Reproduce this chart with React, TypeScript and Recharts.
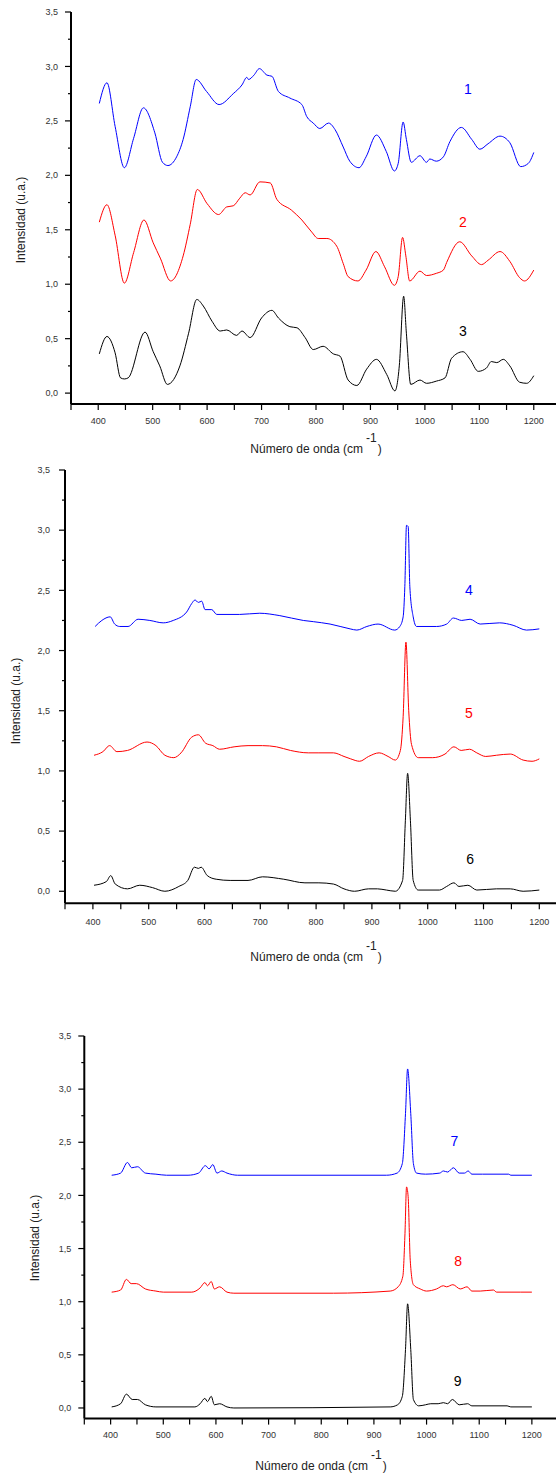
import { LineChart, Line, XAxis, YAxis, ReferenceDot, Label } from "recharts";

// Espectros Raman, tres paneles con tres curvas desplazadas cada uno
const wave1 = [402, 416, 431, 448, 465, 483, 504, 518, 528, 544, 556, 569, 580, 599, 622, 648, 664, 673, 676, 686, 696, 710, 719, 731, 752, 774, 783, 795, 807, 823, 835, 850, 862, 879, 892, 911, 929, 944, 951, 960, 966, 975, 991, 1003, 1009, 1021, 1034, 1046, 1067, 1086, 1101, 1116, 1138, 1156, 1176, 1190, 1200];
const int1 = [2.66, 2.85, 2.45, 2.07, 2.34, 2.62, 2.39, 2.12, 2.09, 2.17, 2.33, 2.63, 2.88, 2.77, 2.65, 2.75, 2.83, 2.9, 2.88, 2.92, 2.98, 2.92, 2.91, 2.77, 2.71, 2.65, 2.54, 2.48, 2.43, 2.48, 2.42, 2.26, 2.13, 2.07, 2.17, 2.37, 2.22, 2.04, 2.11, 2.49, 2.33, 2.12, 2.18, 2.12, 2.15, 2.13, 2.17, 2.31, 2.44, 2.33, 2.24, 2.29, 2.36, 2.3, 2.08, 2.11, 2.21];

const wave2 = [402, 416, 431, 448, 465, 484, 501, 514, 533, 556, 569, 582, 600, 621, 636, 648, 660, 670, 679, 697, 716, 728, 755, 774, 792, 804, 820, 838, 850, 859, 877, 892, 910, 926, 944, 951, 959, 965, 972, 991, 1003, 1021, 1034, 1040, 1064, 1086, 1104, 1116, 1138, 1156, 1174, 1183, 1200];
const int2 = [1.57, 1.73, 1.45, 1.01, 1.29, 1.59, 1.38, 1.24, 1.03, 1.26, 1.55, 1.87, 1.74, 1.64, 1.71, 1.72, 1.79, 1.84, 1.82, 1.94, 1.93, 1.78, 1.68, 1.59, 1.48, 1.42, 1.42, 1.35, 1.19, 1.07, 1.03, 1.13, 1.3, 1.16, 0.99, 1.07, 1.43, 1.26, 1.03, 1.12, 1.08, 1.1, 1.13, 1.2, 1.39, 1.26, 1.18, 1.22, 1.3, 1.21, 1.06, 1.03, 1.13];

const wave3 = [402, 416, 431, 441, 448, 455, 486, 501, 513, 527, 550, 566, 581, 593, 609, 624, 636, 654, 664, 679, 700, 719, 731, 752, 765, 780, 795, 813, 832, 844, 859, 875, 893, 911, 930, 945, 953, 961, 966, 974, 991, 1003, 1021, 1037, 1049, 1070, 1083, 1098, 1113, 1122, 1132, 1144, 1156, 1174, 1187, 1200];
const int3 = [0.36, 0.52, 0.37, 0.14, 0.13, 0.14, 0.56, 0.38, 0.25, 0.08, 0.25, 0.55, 0.86, 0.8, 0.66, 0.57, 0.58, 0.53, 0.57, 0.51, 0.69, 0.76, 0.69, 0.61, 0.6, 0.51, 0.4, 0.43, 0.36, 0.34, 0.12, 0.07, 0.22, 0.31, 0.17, 0.02, 0.25, 0.89, 0.55, 0.08, 0.12, 0.09, 0.11, 0.14, 0.32, 0.38, 0.31, 0.2, 0.23, 0.29, 0.28, 0.31, 0.25, 0.1, 0.09, 0.16];

const wave4 = [404, 416, 431, 439, 448, 463, 481, 502, 526, 544, 568, 577, 583, 589, 595, 601, 613, 622, 663, 699, 735, 777, 795, 825, 861, 873, 891, 911, 941, 950, 956, 959, 962, 965, 968, 974, 980, 1016, 1034, 1046, 1061, 1076, 1094, 1129, 1153, 1177, 1200];
const int4 = [2.2, 2.25, 2.28, 2.22, 2.2, 2.2, 2.26, 2.25, 2.23, 2.25, 2.32, 2.39, 2.42, 2.4, 2.41, 2.34, 2.34, 2.3, 2.3, 2.31, 2.29, 2.25, 2.24, 2.22, 2.18, 2.17, 2.2, 2.22, 2.17, 2.2, 2.28, 2.53, 3.04, 3.03, 2.53, 2.28, 2.2, 2.2, 2.22, 2.27, 2.25, 2.26, 2.22, 2.23, 2.21, 2.17, 2.18];

const wave5 = [402, 418, 430, 443, 462, 497, 513, 529, 545, 558, 577, 589, 602, 615, 627, 653, 678, 704, 729, 754, 786, 805, 831, 850, 862, 878, 894, 913, 929, 942, 951, 956, 961, 966, 971, 983, 1009, 1031, 1047, 1060, 1075, 1088, 1104, 1123, 1148, 1171, 1187, 1200];
const int5 = [1.13, 1.16, 1.21, 1.16, 1.17, 1.24, 1.21, 1.13, 1.11, 1.15, 1.28, 1.3, 1.23, 1.21, 1.18, 1.2, 1.21, 1.21, 1.2, 1.17, 1.15, 1.15, 1.15, 1.12, 1.1, 1.08, 1.12, 1.15, 1.12, 1.09, 1.17, 1.45, 2.07, 1.5, 1.22, 1.11, 1.11, 1.14, 1.2, 1.17, 1.18, 1.15, 1.12, 1.13, 1.14, 1.09, 1.08, 1.1];

const wave6 = [402, 424, 432, 440, 462, 484, 507, 529, 554, 570, 582, 589, 594, 605, 621, 646, 678, 704, 742, 780, 805, 831, 850, 869, 894, 910, 926, 942, 955, 960, 964, 969, 974, 983, 1021, 1034, 1047, 1056, 1072, 1088, 1123, 1148, 1171, 1200];
const int6 = [0.05, 0.08, 0.13, 0.06, 0.02, 0.05, 0.03, 0.0, 0.04, 0.09, 0.2, 0.19, 0.2, 0.13, 0.1, 0.09, 0.09, 0.12, 0.1, 0.07, 0.07, 0.06, 0.02, 0.0, 0.02, 0.02, 0.01, 0.0, 0.09, 0.59, 0.98, 0.59, 0.09, 0.01, 0.01, 0.04, 0.07, 0.04, 0.05, 0.01, 0.02, 0.02, 0.0, 0.01];

const wave7 = [402, 419, 432, 440, 451, 466, 486, 506, 547, 567, 580, 587, 594, 602, 611, 621, 641, 924, 944, 954, 960, 964, 970, 975, 981, 998, 1025, 1032, 1040, 1051, 1062, 1072, 1079, 1086, 1106, 1156, 1160, 1200];
const int7 = [2.19, 2.21, 2.31, 2.26, 2.27, 2.21, 2.2, 2.19, 2.19, 2.21, 2.28, 2.25, 2.29, 2.21, 2.23, 2.21, 2.19, 2.19, 2.21, 2.3, 2.77, 3.19, 2.77, 2.3, 2.21, 2.2, 2.21, 2.23, 2.22, 2.26, 2.21, 2.21, 2.23, 2.2, 2.2, 2.2, 2.19, 2.19];

const wave8 = [402, 419, 430, 439, 449, 466, 486, 500, 554, 570, 579, 584, 591, 597, 607, 621, 634, 823, 931, 946, 955, 959, 962, 965, 969, 975, 988, 1000, 1019, 1032, 1038, 1050, 1064, 1077, 1086, 1102, 1127, 1133, 1178, 1200];
const int8 = [1.09, 1.11, 1.21, 1.17, 1.17, 1.12, 1.1, 1.09, 1.09, 1.13, 1.18, 1.15, 1.19, 1.12, 1.14, 1.09, 1.08, 1.08, 1.1, 1.14, 1.24, 1.64, 2.08, 1.99, 1.39, 1.16, 1.12, 1.1, 1.12, 1.15, 1.14, 1.16, 1.12, 1.14, 1.1, 1.1, 1.11, 1.09, 1.09, 1.09];

const wave9 = [402, 419, 430, 441, 451, 466, 486, 560, 570, 579, 584, 591, 597, 607, 621, 634, 931, 945, 954, 960, 964, 970, 975, 985, 998, 1008, 1022, 1032, 1040, 1049, 1062, 1078, 1086, 1153, 1160, 1200];
const int9 = [0.01, 0.04, 0.13, 0.08, 0.08, 0.03, 0.01, 0.01, 0.04, 0.09, 0.06, 0.11, 0.03, 0.04, 0.01, 0.0, 0.01, 0.03, 0.11, 0.55, 0.98, 0.55, 0.08, 0.02, 0.03, 0.04, 0.04, 0.05, 0.04, 0.08, 0.03, 0.04, 0.02, 0.02, 0.01, 0.01];

const xTicks = [350, 400, 450, 500, 550, 600, 650, 700, 750, 800, 850, 900, 950, 1000, 1050, 1100, 1150, 1200, 1250];
const xLabeled = [400, 500, 600, 700, 800, 900, 1000, 1100, 1200];
const yTicks = [0, 0.25, 0.5, 0.75, 1, 1.25, 1.5, 1.75, 2, 2.25, 2.5, 2.75, 3, 3.25, 3.5];

const BLUE = "#0000ff";
const RED = "#ff0000";
const BLACK = "#000000";
const FONT = "'Liberation Sans', Arial, sans-serif";

const toPoints = (xs: number[], ys: number[]) => xs.map((x, i) => ({ x, y: ys[i] }));

interface Panel {
  top: number;
  height: number;
  margin: { top: number; right: number; bottom: number; left: number };
  xAxisHeight: number;
  xLabelGap: number;
  yLabelGap: number;
  yTitle: [number, number];
  xTitle: [number, number];
  series: { pts: { x: number; y: number }[]; color: string }[];
  tags: { text: string; x: number; y: number; color: string }[];
}

const panels: Panel[] = [
  {
    top: 0,
    height: 470,
    margin: { top: 12, right: 29, bottom: 6, left: 21 },
    xAxisHeight: 60,
    xLabelGap: 20,
    yLabelGap: 13,
    yTitle: [21, 220],
    xTitle: [316, 453],
    series: [
      { pts: toPoints(wave1, int1), color: BLUE },
      { pts: toPoints(wave2, int2), color: RED },
      { pts: toPoints(wave3, int3), color: BLACK },
    ],
    tags: [
      { text: "1", x: 1079, y: 2.79, color: BLUE },
      { text: "2", x: 1070, y: 1.57, color: RED },
      { text: "3", x: 1070, y: 0.57, color: BLACK },
    ],
  },
  {
    top: 460,
    height: 520,
    margin: { top: 10, right: 22.8, bottom: 16.7, left: 15 },
    xAxisHeight: 60,
    xLabelGap: 22,
    yLabelGap: 15,
    yTitle: [16, 241],
    xTitle: [316, 501],
    series: [
      { pts: toPoints(wave4, int4), color: BLUE },
      { pts: toPoints(wave5, int5), color: RED },
      { pts: toPoints(wave6, int6), color: BLACK },
    ],
    tags: [
      { text: "4", x: 1074, y: 2.5, color: BLUE },
      { text: "5", x: 1074, y: 1.48, color: RED },
      { text: "6", x: 1076, y: 0.27, color: BLACK },
    ],
  },
  {
    top: 1020,
    height: 455,
    margin: { top: 16, right: 31.8, bottom: 6.4, left: 34.3 },
    xAxisHeight: 50,
    xLabelGap: 19.5,
    yLabelGap: 13,
    yTitle: [35, 218],
    xTitle: [321, 450],
    series: [
      { pts: toPoints(wave7, int7), color: BLUE },
      { pts: toPoints(wave8, int8), color: RED },
      { pts: toPoints(wave9, int9), color: BLACK },
    ],
    tags: [
      { text: "7", x: 1053, y: 2.51, color: BLUE },
      { text: "8", x: 1060, y: 1.38, color: RED },
      { text: "9", x: 1059, y: 0.25, color: BLACK },
    ],
  },
];

function XTick({ x, y, payload, gap }: any) {
  const v = payload.value;
  return (
    <g>
      <line x1={x} y1={y} x2={x} y2={y + 6} stroke="#000" strokeWidth={1.2} />
      {xLabeled.includes(v) && (
        <text x={x} y={y + gap} textAnchor="middle" fontSize={9} fill="#333" fontFamily={FONT}>
          {v}
        </text>
      )}
    </g>
  );
}

function YTick({ x, y, payload, gap }: any) {
  const v = payload.value;
  const major = Math.abs(v * 2 - Math.round(v * 2)) < 1e-6;
  return (
    <g>
      <line x1={x - (major ? 6 : 3)} y1={y} x2={x} y2={y} stroke="#000" strokeWidth={1.2} />
      {major && (
        <text x={x - gap} y={y} dy="0.35em" textAnchor="end" fontSize={9} fill="#333" fontFamily={FONT}>
          {v.toFixed(1).replace(".", ",")}
        </text>
      )}
    </g>
  );
}

function SpectraPanel({ p }: { p: Panel }) {
  const [ytx, yty] = p.yTitle;
  const [xtx, xty] = p.xTitle;
  return (
    <div style={{ position: "absolute", left: 0, top: p.top }}>
      <LineChart width={590} height={p.height} margin={p.margin}>
        <XAxis
          dataKey="x"
          type="number"
          domain={[350, 1250]}
          ticks={xTicks}
          interval={0}
          allowDataOverflow
          height={p.xAxisHeight}
          axisLine={{ stroke: "#000", strokeWidth: 2 }}
          tickLine={false}
          tickSize={0}
          tickMargin={0}
          tick={(props: any) => <XTick {...props} gap={p.xLabelGap} />}
        >
          <Label
            content={() => (
              <text x={xtx} y={xty} textAnchor="middle" fontSize={12} fill="#222" fontFamily={FONT}>
                <tspan>Número de onda (cm</tspan>
                <tspan dx={3} dy={-11}>-1</tspan>
                <tspan dx={1} dy={11}>)</tspan>
              </text>
            )}
          />
        </XAxis>
        <YAxis
          type="number"
          domain={[-0.1, 3.5]}
          ticks={yTicks}
          interval={0}
          allowDataOverflow
          width={50}
          axisLine={{ stroke: "#000", strokeWidth: 2 }}
          tickLine={false}
          tickSize={0}
          tickMargin={0}
          tick={(props: any) => <YTick {...props} gap={p.yLabelGap} />}
        >
          <Label
            content={() => (
              <text
                x={ytx}
                y={yty}
                dy="0.35em"
                transform={`rotate(-90 ${ytx} ${yty})`}
                textAnchor="middle"
                fontSize={12}
                fill="#222"
                fontFamily={FONT}
              >
                Intensidad (u.a.)
              </text>
            )}
          />
        </YAxis>
        {p.series.map((s, i) => (
          <Line
            key={i}
            data={s.pts}
            dataKey="y"
            type="monotone"
            stroke={s.color}
            strokeWidth={1}
            dot={false}
            activeDot={false}
            isAnimationActive={false}
          />
        ))}
        {p.tags.map((t) => (
          <ReferenceDot
            key={t.text}
            x={t.x}
            y={t.y}
            r={0}
            fill="none"
            stroke="none"
            label={{ value: t.text, position: "center", fill: t.color, fontSize: 14, fontFamily: FONT }}
          />
        ))}
      </LineChart>
    </div>
  );
}

export default function App() {
  return (
    <div
      style={{
        position: "absolute",
        left: 0,
        top: 0,
        width: 556,
        height: 1475,
        overflow: "hidden",
        background: "#fff",
      }}
    >
      {panels.map((p, i) => (
        <SpectraPanel key={i} p={p} />
      ))}
    </div>
  );
}
